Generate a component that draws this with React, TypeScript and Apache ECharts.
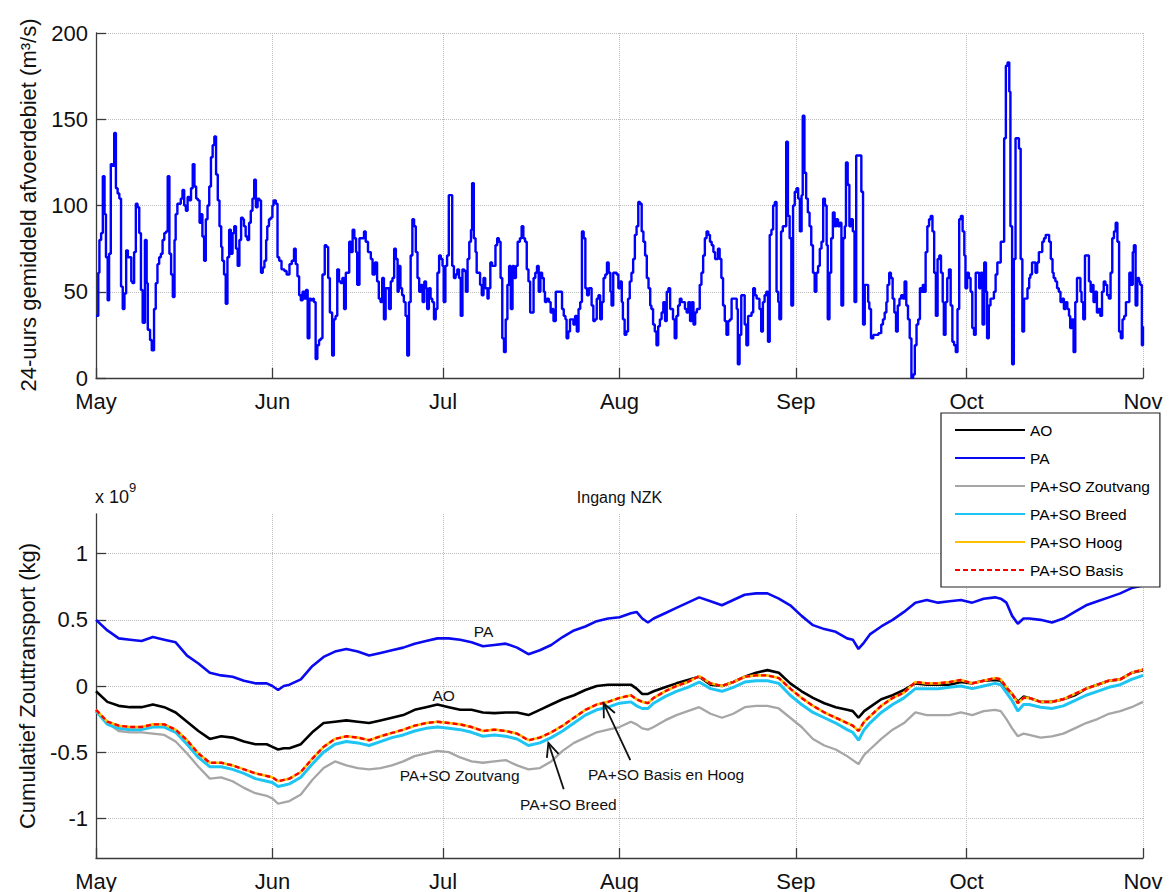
import React, { useEffect, useRef } from 'react';
import * as echarts from 'echarts';

// ---- axis ticks -------------------------------------------------------
// day offsets (from 1 May) of each month start
const monthStarts = [0, 31, 61, 92, 123, 153, 184];
const monthNames = ['May', 'Jun', 'Jul', 'Aug', 'Sep', 'Oct', 'Nov'];
const saltTicks = [-1, -0.5, 0, 0.5, 1];

// ---- 24-hour mean discharge (m3/s), [day, value] ------------------------
const flowMay = [
  [0, 36], [0.4, 61], [0.6, 80], [0.9, 84], [1.2, 117], [1.5, 95], [1.75, 70], [2.05, 45], [2.3, 72], [2.6, 124],
  [2.9, 123], [3.2, 142], [3.5, 110], [3.8, 107], [4.1, 104], [4.4, 53], [4.7, 40], [5.0, 49], [5.3, 74], [5.6, 70],
  [5.9, 70], [6.2, 56], [6.4, 55], [6.7, 73], [7.0, 101], [7.3, 99], [7.6, 84], [7.9, 51], [8.2, 32], [8.6, 80],
  [8.9, 55], [9.1, 28], [9.5, 22], [9.8, 16], [10.2, 40], [10.5, 55], [10.8, 66], [11.1, 70], [11.4, 72], [11.7, 80],
  [12.0, 84], [12.3, 85], [12.6, 117], [12.9, 72], [13.2, 60], [13.5, 47], [13.8, 80], [14.0, 95], [14.3, 101], [14.6, 101],
  [14.9, 104], [15.2, 109], [15.5, 100], [15.8, 97], [16.1, 105], [16.4, 103], [16.7, 110], [17.0, 124], [17.3, 111], [17.6, 104],
  [17.9, 103], [18.2, 90], [18.4, 95], [18.7, 82], [19.0, 68], [19.3, 92], [19.6, 100], [19.9, 111], [20.2, 128], [20.5, 135],
  [20.8, 140], [21.1, 118], [21.4, 103], [21.7, 88], [22.0, 76], [22.2, 68], [22.5, 60], [22.8, 43], [23.1, 70], [23.4, 86],
  [23.7, 72], [24.0, 84], [24.3, 88], [24.6, 75], [24.9, 65], [25.2, 80], [25.5, 93], [25.8, 92], [26.0, 88], [26.3, 82],
  [26.6, 80], [26.9, 90], [27.2, 97], [27.5, 104], [27.8, 115], [28.1, 99], [28.4, 104], [28.7, 103], [29.0, 61], [29.3, 64],
  [29.6, 68], [29.9, 80], [30.1, 88], [30.4, 92], [30.7, 93], [31.0, 100],
];
const flowJun = [
  [31.2, 103], [31.6, 101], [31.9, 70], [32.2, 68], [32.6, 63], [33.1, 62], [33.5, 60], [34.0, 66], [34.4, 68], [34.8, 75],
  [35.1, 66], [35.4, 59], [35.7, 48], [36.0, 45], [36.3, 50], [36.6, 46], [36.9, 51], [37.2, 23], [37.5, 46], [37.8, 45],
  [38.1, 46], [38.3, 44], [38.6, 11], [38.9, 19], [39.2, 22], [39.5, 23], [39.8, 60], [40.2, 77], [40.5, 76], [40.8, 58],
  [41.1, 38], [41.5, 13], [41.8, 34], [42.1, 36], [42.4, 63], [42.7, 56], [43.0, 55], [43.3, 58], [43.6, 40], [43.9, 61],
  [44.2, 61], [44.5, 79], [44.8, 73], [45.1, 86], [45.4, 81], [45.7, 73], [45.9, 54], [46.3, 81], [46.7, 81], [47.1, 85],
  [47.4, 79], [47.8, 73], [48.3, 69], [48.6, 60], [49.0, 67], [49.4, 56], [49.7, 46], [50.0, 44], [50.3, 58], [50.6, 34],
  [50.9, 52], [51.2, 52], [51.5, 40], [51.8, 56], [52.1, 58], [52.4, 75], [52.7, 69], [53.0, 50], [53.2, 65], [53.5, 52],
  [53.8, 48], [54.1, 44], [54.4, 36], [54.7, 13], [55.0, 44], [55.3, 71], [55.6, 92], [55.9, 88], [56.2, 73], [56.5, 58],
  [56.8, 50], [57.1, 54], [57.4, 44], [57.7, 56], [58.0, 52], [58.2, 40], [58.5, 52], [58.8, 46], [59.1, 44], [59.4, 34],
  [59.7, 40], [60.0, 61], [60.3, 71], [60.6, 69], [60.9, 65],
];
const flowJul = [
  [61.1, 44], [61.4, 65], [61.7, 71], [62.0, 106], [62.3, 106], [62.6, 65], [62.9, 58], [63.2, 60], [63.5, 63], [63.8, 58],
  [64.1, 36], [64.4, 63], [64.7, 62], [65.0, 50], [65.3, 69], [65.6, 79], [65.9, 86], [66.1, 113], [66.4, 81], [66.7, 73],
  [66.9, 61], [67.2, 61], [67.5, 54], [67.8, 48], [68.1, 58], [68.4, 52], [68.8, 46], [69.0, 52], [69.3, 67], [69.6, 65],
  [69.9, 65], [70.2, 77], [70.5, 81], [70.8, 79], [71.1, 58], [71.4, 23], [71.7, 15], [72.0, 34], [72.3, 54], [72.6, 65],
  [72.9, 40], [73.2, 65], [73.5, 58], [73.8, 65], [74.1, 79], [74.5, 81], [74.8, 88], [75.1, 81], [75.4, 79], [75.7, 63],
  [76.0, 56], [76.3, 38], [76.6, 38], [76.9, 58], [77.2, 61], [77.5, 65], [77.8, 50], [78.1, 61], [78.4, 58], [78.7, 50],
  [78.9, 44], [79.2, 46], [79.6, 44], [79.9, 38], [80.2, 40], [80.4, 33], [80.8, 50], [81.2, 50], [81.6, 50], [81.9, 40],
  [82.2, 36], [82.5, 34], [82.7, 23], [83.0, 27], [83.3, 34], [83.6, 34], [83.9, 31], [84.2, 36], [84.5, 27], [84.8, 40],
  [85.1, 44], [85.4, 85], [85.7, 81], [86.0, 52], [86.3, 48], [86.6, 52], [86.9, 52], [87.1, 42], [87.4, 33], [87.7, 34],
  [88.0, 46], [88.3, 48], [88.6, 34], [88.9, 44], [89.2, 58], [89.5, 60], [89.8, 67], [90.1, 61], [90.4, 50], [90.6, 42],
  [90.9, 61], [91.2, 61], [91.5, 60], [91.8, 52],
];
const flowAug = [
  [92.1, 56], [92.4, 44], [92.6, 34], [92.9, 25], [93.2, 27], [93.5, 46], [93.8, 56], [94.1, 61], [94.4, 69], [94.7, 83],
  [95.0, 88], [95.3, 102], [95.6, 101], [95.9, 85], [96.2, 79], [96.5, 71], [96.8, 58], [97.1, 52], [97.4, 42], [97.6, 40],
  [97.9, 31], [98.2, 27], [98.5, 19], [98.8, 30], [99.1, 34], [99.4, 38], [99.7, 44], [100.0, 33], [100.3, 50], [100.6, 52],
  [100.9, 40], [101.2, 40], [101.4, 34], [101.7, 23], [102.0, 36], [102.3, 42], [102.6, 46], [102.9, 44], [103.2, 44], [103.5, 40],
  [103.8, 38], [104.1, 44], [104.4, 33], [104.7, 44], [105.0, 31], [105.3, 38], [105.6, 40], [105.8, 40], [106.1, 54], [106.4, 61],
  [106.7, 71], [107.0, 81], [107.3, 85], [107.6, 83], [107.9, 79], [108.2, 77], [108.5, 73], [108.8, 69], [109.0, 69], [109.3, 75],
  [109.6, 69], [109.9, 58], [110.2, 42], [110.5, 33], [110.8, 25], [111.1, 33], [111.4, 34], [111.7, 46], [112.0, 46], [112.3, 46],
  [112.6, 40], [112.8, 8], [113.1, 25], [113.4, 48], [113.7, 48], [114.0, 31], [114.3, 19], [114.6, 36], [114.9, 36], [115.2, 38],
  [115.5, 52], [115.8, 48], [116.1, 46], [116.4, 46], [116.6, 40], [116.9, 27], [117.2, 44], [117.5, 48], [117.8, 50], [118.1, 21],
  [118.4, 83], [118.7, 86], [119.0, 100], [119.3, 102], [119.6, 50], [119.9, 44], [120.1, 34], [120.4, 85], [120.7, 88], [121.0, 88],
  [121.3, 137], [121.6, 94], [121.9, 81], [122.2, 42], [122.5, 100], [122.8, 108],
];
const flowSep = [
  [123.1, 110], [123.4, 104], [123.7, 85], [124.0, 106], [124.2, 152], [124.5, 119], [124.8, 104], [125.1, 96], [125.4, 88], [125.7, 77],
  [126.0, 61], [126.3, 50], [126.6, 61], [126.9, 65], [127.2, 75], [127.5, 79], [127.8, 104], [128.1, 100], [128.4, 77], [128.6, 34],
  [128.9, 61], [129.2, 81], [129.5, 96], [129.8, 88], [130.1, 92], [130.4, 88], [130.7, 90], [131.0, 42], [131.3, 81], [131.6, 88],
  [131.8, 125], [132.1, 112], [132.4, 88], [132.7, 92], [133.0, 85], [133.3, 44], [133.6, 129], [133.9, 129], [134.2, 129], [134.5, 108],
  [134.8, 31], [135.1, 54], [135.4, 54], [135.7, 44], [135.9, 40], [136.2, 23], [136.6, 25], [137.0, 25], [137.5, 26], [138.0, 31],
  [138.3, 34], [138.6, 38], [138.9, 44], [139.1, 54], [139.4, 61], [139.7, 58], [140.0, 46], [140.3, 38], [140.6, 27], [140.9, 42],
  [141.2, 46], [141.5, 48], [141.8, 46], [142.1, 56], [142.4, 42], [142.7, 34], [143.0, 23], [143.3, 0], [143.6, 2], [143.9, 19],
  [144.2, 31], [144.5, 34], [144.8, 52], [145.1, 50], [145.3, 54], [145.6, 50], [145.8, 73], [146.1, 88], [146.4, 92], [146.7, 94],
  [147.0, 85], [147.3, 61], [147.6, 36], [147.9, 69], [148.2, 71], [148.5, 61], [148.8, 44], [149.0, 25], [149.3, 44], [149.6, 58],
  [149.9, 63], [150.2, 42], [150.5, 21], [150.8, 19], [151.1, 15], [151.4, 40], [151.7, 92], [152.0, 94], [152.3, 85], [152.6, 71],
  [152.8, 52],
];
const flowOct = [
  [153.1, 61], [153.4, 58], [153.7, 50], [154.0, 29], [154.3, 25], [154.6, 61], [154.9, 61], [155.2, 52], [155.5, 61], [155.8, 31],
  [156.1, 67], [156.4, 50], [156.6, 23], [156.9, 42], [157.2, 46], [157.5, 46], [157.8, 50], [158.1, 60], [158.4, 67], [158.7, 67],
  [159.0, 79], [159.3, 79], [159.6, 139], [159.9, 181], [160.2, 183], [160.5, 166], [160.7, 88], [161.0, 8], [161.3, 69], [161.6, 139],
  [161.9, 139], [162.2, 133], [162.5, 69], [162.8, 27], [163.1, 46], [163.4, 46], [163.7, 52], [164.0, 58], [164.2, 60], [164.5, 67],
  [164.8, 67], [165.1, 61], [165.4, 67], [165.7, 73], [166.0, 73], [166.3, 79], [166.6, 81], [166.9, 83], [167.2, 83], [167.5, 79],
  [167.8, 69], [168.1, 61], [168.3, 58], [168.6, 56], [168.9, 52], [169.2, 50], [169.5, 44], [169.8, 46], [170.1, 40], [170.4, 44],
  [170.7, 40], [171.0, 36], [171.2, 29], [171.5, 34], [171.8, 15], [172.1, 44], [172.4, 58], [172.7, 58], [173.0, 50], [173.2, 44],
  [173.5, 34], [173.8, 71], [174.1, 71], [174.5, 56], [174.8, 50], [175.1, 54], [175.3, 44], [175.6, 50], [175.9, 38], [176.2, 40],
  [176.5, 36], [176.8, 50], [177.1, 56], [177.4, 54], [177.7, 48], [178.0, 46], [178.3, 61], [178.6, 81], [178.9, 85], [179.2, 90],
  [179.5, 79], [179.8, 27], [180.1, 23], [180.4, 34], [180.7, 36], [181.0, 44], [181.3, 44], [181.6, 61], [181.9, 54], [182.2, 73],
  [182.4, 77], [182.7, 42], [183.0, 58], [183.3, 56], [183.5, 54], [183.8, 19], [184.0, 30],
];

// ---- cumulative salt transport (x 10^9 kg) ----------------------------
const saltDays = [
  0, 2, 4, 6, 8, 10, 12, 14, 16, 18,
  20, 22, 24, 26, 28, 30, 31, 32, 33, 34,
  36, 38, 40, 42, 44, 46, 48, 50, 52, 54,
  56, 58, 60, 62, 64, 66, 68, 70, 72, 74,
  76, 78, 80, 82, 84, 86, 88, 90, 92, 94,
  95, 96, 97, 98, 100, 102, 104, 106, 108, 110,
  112, 114, 116, 118, 120, 122, 124, 126, 128, 130,
  132, 133, 134, 135, 136, 138, 140, 142, 144, 146,
  148, 150, 152, 154, 156, 158, 159, 160, 161, 162,
  163, 164, 166, 168, 170, 172, 174, 176, 178, 180,
  182, 184,
];
const saltAO = [
  -0.04, -0.12, -0.15, -0.16, -0.16, -0.14, -0.16, -0.20, -0.27, -0.34,
  -0.40, -0.38, -0.39, -0.42, -0.44, -0.44, -0.46, -0.48, -0.47, -0.47,
  -0.44, -0.35, -0.28, -0.27, -0.26, -0.27, -0.28, -0.26, -0.24, -0.22,
  -0.18, -0.16, -0.14, -0.16, -0.18, -0.18, -0.20, -0.205, -0.20, -0.20,
  -0.22, -0.18, -0.14, -0.10, -0.07, -0.03, 0.00, 0.01, 0.01, 0.01,
  -0.02, -0.06, -0.06, -0.04, -0.01, 0.02, 0.045, 0.07, 0.01, 0.00,
  0.03, 0.07, 0.10, 0.12, 0.10, 0.02, -0.04, -0.09, -0.13, -0.16,
  -0.18, -0.19, -0.24, -0.19, -0.16, -0.10, -0.07, -0.03, 0.02, 0.01,
  0.01, 0.01, 0.03, 0.02, 0.04, 0.045, 0.04, -0.02, -0.06, -0.12,
  -0.08, -0.09, -0.12, -0.12, -0.10, -0.07, -0.02, 0.01, 0.04, 0.05,
  0.10, 0.12,
];
const saltPA = [
  0.50, 0.42, 0.36, 0.35, 0.34, 0.37, 0.35, 0.33, 0.23, 0.17,
  0.10, 0.08, 0.07, 0.04, 0.02, 0.02, 0.00, -0.03, 0.00, 0.01,
  0.05, 0.15, 0.22, 0.26, 0.28, 0.26, 0.23, 0.25, 0.27, 0.29,
  0.32, 0.34, 0.36, 0.36, 0.35, 0.33, 0.30, 0.31, 0.32, 0.29,
  0.24, 0.27, 0.31, 0.37, 0.42, 0.45, 0.49, 0.51, 0.52, 0.55,
  0.56, 0.51, 0.48, 0.51, 0.55, 0.59, 0.63, 0.67, 0.64, 0.61,
  0.65, 0.69, 0.70, 0.70, 0.66, 0.61, 0.53, 0.46, 0.43, 0.41,
  0.36, 0.35, 0.28, 0.33, 0.39, 0.45, 0.50, 0.56, 0.63, 0.65,
  0.63, 0.64, 0.65, 0.63, 0.66, 0.67, 0.66, 0.63, 0.53, 0.47,
  0.51, 0.51, 0.50, 0.48, 0.51, 0.56, 0.61, 0.64, 0.67, 0.70,
  0.74, 0.76,
];
const saltZoutvang = [
  -0.18, -0.28, -0.34, -0.35, -0.35, -0.36, -0.37, -0.42, -0.51, -0.61,
  -0.70, -0.69, -0.72, -0.77, -0.81, -0.83, -0.85, -0.89, -0.88, -0.87,
  -0.82, -0.71, -0.62, -0.57, -0.60, -0.62, -0.63, -0.62, -0.60, -0.57,
  -0.53, -0.51, -0.49, -0.50, -0.54, -0.57, -0.58, -0.57, -0.56, -0.60,
  -0.63, -0.62, -0.57, -0.49, -0.43, -0.39, -0.35, -0.33, -0.31, -0.27,
  -0.29, -0.32, -0.33, -0.31, -0.26, -0.22, -0.19, -0.16, -0.21, -0.24,
  -0.21, -0.16, -0.15, -0.15, -0.17, -0.24, -0.31, -0.40, -0.45, -0.48,
  -0.53, -0.56, -0.59, -0.52, -0.48, -0.40, -0.33, -0.28, -0.20, -0.22,
  -0.22, -0.22, -0.20, -0.22, -0.19, -0.18, -0.19, -0.25, -0.32, -0.38,
  -0.36, -0.37, -0.39, -0.38, -0.36, -0.32, -0.28, -0.25, -0.21, -0.19,
  -0.16, -0.12,
];
const saltBreed = [
  -0.19, -0.29, -0.32, -0.33, -0.33, -0.31, -0.31, -0.35, -0.44, -0.54,
  -0.61, -0.61, -0.63, -0.66, -0.70, -0.72, -0.73, -0.76, -0.75, -0.74,
  -0.69, -0.59, -0.50, -0.44, -0.42, -0.43, -0.45, -0.42, -0.39, -0.37,
  -0.34, -0.32, -0.31, -0.32, -0.33, -0.35, -0.38, -0.37, -0.38, -0.40,
  -0.45, -0.43, -0.39, -0.34, -0.28, -0.22, -0.18, -0.16, -0.13, -0.12,
  -0.15, -0.17, -0.17, -0.13, -0.08, -0.04, -0.01, 0.03, -0.02, -0.04,
  -0.01, 0.03, 0.04, 0.04, 0.02, -0.07, -0.14, -0.20, -0.24, -0.28,
  -0.33, -0.35, -0.41, -0.33, -0.28, -0.20, -0.14, -0.09, -0.02, -0.02,
  -0.02, -0.01, 0.00, -0.02, 0.00, 0.02, 0.01, -0.05, -0.11, -0.19,
  -0.14, -0.14, -0.16, -0.17, -0.15, -0.11, -0.07, -0.04, -0.01, 0.01,
  0.05, 0.08,
];
// "Basis" and "Hoog" give practically the same result
const saltBasisHoog = [
  -0.18, -0.27, -0.30, -0.31, -0.31, -0.29, -0.29, -0.33, -0.41, -0.51,
  -0.58, -0.58, -0.60, -0.63, -0.66, -0.68, -0.69, -0.72, -0.71, -0.70,
  -0.65, -0.55, -0.46, -0.40, -0.38, -0.39, -0.41, -0.38, -0.355, -0.33,
  -0.30, -0.28, -0.27, -0.28, -0.29, -0.31, -0.34, -0.33, -0.34, -0.36,
  -0.41, -0.39, -0.35, -0.30, -0.24, -0.18, -0.14, -0.12, -0.09, -0.07,
  -0.10, -0.12, -0.13, -0.09, -0.04, 0.00, 0.03, 0.075, 0.02, 0.00,
  0.03, 0.07, 0.08, 0.08, 0.06, -0.02, -0.09, -0.15, -0.20, -0.24,
  -0.28, -0.30, -0.34, -0.27, -0.23, -0.15, -0.09, -0.05, 0.03, 0.02,
  0.02, 0.03, 0.045, 0.02, 0.04, 0.06, 0.05, -0.01, -0.06, -0.13,
  -0.09, -0.09, -0.12, -0.12, -0.10, -0.06, -0.02, 0.01, 0.04, 0.05,
  0.10, 0.125,
];

// text labels placed in data coordinates of the lower panel
const seriesNotes = [
  { text: 'PA', day: 68.1, value: 0.41 },
  { text: 'AO', day: 61.1, value: -0.07 },
  { text: 'PA+SO Zoutvang', day: 63.9, value: -0.68 },
  { text: 'PA+SO Breed', day: 83.0, value: -0.895 },
  { text: 'PA+SO Basis en Hoog', day: 100.2, value: -0.67 },
];
const noteArrows = [
  { from: [82.2, -0.78], to: [79.5, -0.43] },
  { from: [93.9, -0.56], to: [89.2, -0.13] },
];

const FONT = '"Liberation Sans", Arial, Helvetica, sans-serif';
const AXIS_COLOR = '#3a3a3a';
const GRID_LINE = { type: 'dotted' as const, color: '#bdbdbd', width: 1 };

const pairs = (days: number[], vals: number[]) =>
  days.slice(0, Math.min(days.length, vals.length)).map((d, i) => [d, vals[i]]);

function monthAxis(gridIndex: number) {
  return {
    type: 'value',
    gridIndex,
    min: monthStarts[0],
    max: monthStarts[monthStarts.length - 1],
    axisLine: { show: true, onZero: false, lineStyle: { color: AXIS_COLOR, width: 1.3 } },
    axisTick: {
      show: true, inside: true, length: 10, customValues: monthStarts,
      lineStyle: { color: AXIS_COLOR, width: 1.3 },
    },
    axisLabel: {
      customValues: monthStarts,
      showMinLabel: true,
      showMaxLabel: true,
      formatter: (v: number) => monthNames[monthStarts.indexOf(Math.round(v))] ?? '',
      fontSize: 22, color: '#111', fontFamily: FONT, margin: 12,
    },
    splitLine: { show: true, lineStyle: GRID_LINE },
  };
}

function buildOption() {
  const flow = [...flowMay, ...flowJun, ...flowJul, ...flowAug, ...flowSep, ...flowOct];
  const lineSeries = (name: string, vals: number[], color: string, width: number, dash?: number[]) => ({
    name,
    type: 'line',
    xAxisIndex: 1,
    yAxisIndex: 1,
    data: pairs(saltDays, vals),
    symbol: 'none',
    color,
    itemStyle: { color },
    lineStyle: { color, width, type: dash ?? 'solid' },
    emphasis: { disabled: true },
  });
  return {
    animation: false,
    backgroundColor: '#ffffff',
    textStyle: { fontFamily: FONT },
    grid: [
      { left: 96, top: 33, width: 1047, height: 345 },
      { left: 96, top: 514, width: 1047, height: 345 },
    ],
    xAxis: [monthAxis(0), monthAxis(1)],
    yAxis: [
      {
        type: 'value', gridIndex: 0, min: 0, max: 200, interval: 50,
        axisLine: { show: true, onZero: false, lineStyle: { color: AXIS_COLOR, width: 1.3 } },
        axisTick: { show: true, inside: true, length: 10, lineStyle: { color: AXIS_COLOR, width: 1.3 } },
        axisLabel: {
          fontSize: 22, color: '#111', fontFamily: FONT, margin: 8, padding: [0, 0, 3, 0],
        },
        splitLine: { show: true, lineStyle: GRID_LINE },
      },
      {
        type: 'value', gridIndex: 1, min: -1.3, max: 1.3,
        axisLine: { show: true, onZero: false, lineStyle: { color: AXIS_COLOR, width: 1.3 } },
        axisTick: {
          show: true, inside: true, length: 10, customValues: saltTicks,
          lineStyle: { color: AXIS_COLOR, width: 1.3 },
        },
        axisLabel: {
          customValues: saltTicks,
          formatter: (v: number) => String(Math.round(v * 10) / 10),
          fontSize: 22, color: '#111', fontFamily: FONT, margin: 8,
        },
        splitLine: { show: true, lineStyle: GRID_LINE },
      },
    ],
    legend: {
      data: ['AO', 'PA', 'PA+SO Zoutvang', 'PA+SO Breed', 'PA+SO Hoog', 'PA+SO Basis'],
      orient: 'vertical',
      left: 941,
      top: 413,
      padding: [9, 10, 9, 13],
      itemWidth: 70,
      itemHeight: 14,
      itemGap: 12,
      selectedMode: false,
      backgroundColor: '#ffffff',
      borderColor: '#222222',
      borderWidth: 1.2,
      itemStyle: { opacity: 0 },
      textStyle: { fontSize: 15.5, color: '#000', fontFamily: FONT },
    },
    series: [
      {
        name: 'Afvoerdebiet',
        type: 'line',
        xAxisIndex: 0,
        yAxisIndex: 0,
        data: flow,
        step: 'end',
        symbol: 'none',
        color: '#0000ff',
        lineStyle: { color: '#0000ff', width: 2.4 },
        emphasis: { disabled: true },
      },
      lineSeries('AO', saltAO, '#000000', 2.6),
      lineSeries('PA', saltPA, '#0a0af0', 2.6),
      lineSeries('PA+SO Zoutvang', saltZoutvang, '#a6a6a6', 2.3),
      lineSeries('PA+SO Breed', saltBreed, '#1ec5f2', 3),
      lineSeries('PA+SO Hoog', saltBasisHoog, '#ffc000', 2.6),
      lineSeries('PA+SO Basis', saltBasisHoog, '#ff0000', 2.4, [5, 3]),
    ],
  };
}

export default function App() {
  const ref = useRef<HTMLDivElement>(null);

  useEffect(() => {
    if (!ref.current) return;
    const chart = echarts.init(ref.current, null, { renderer: 'svg' });
    chart.setOption(buildOption() as any);

    const toPx = (d: number, v: number) =>
      chart.convertToPixel({ gridIndex: 1 } as any, [d, v]) as number[];

    const graphics: any[] = [
      {
        type: 'text', x: 28, y: 205, rotation: Math.PI / 2,
        style: {
          text: '24-uurs gemiddeld afvoerdebiet (m³/s)', fill: '#111',
          font: `22px ${FONT}`, textAlign: 'center', textVerticalAlign: 'middle',
          align: 'center', verticalAlign: 'middle',
        },
      },
      {
        type: 'text', x: 27, y: 686, rotation: Math.PI / 2,
        style: {
          text: 'Cumulatief Zouttransport (kg)', fill: '#111',
          font: `22px ${FONT}`, textAlign: 'center', textVerticalAlign: 'middle',
          align: 'center', verticalAlign: 'middle',
        },
      },
      {
        type: 'text', x: 95, y: 497,
        style: {
          text: 'x 10', fill: '#111', font: `18px ${FONT}`,
          textAlign: 'left', textVerticalAlign: 'middle', align: 'left', verticalAlign: 'middle',
        },
      },
      {
        type: 'text', x: 129, y: 487,
        style: {
          text: '9', fill: '#111', font: `13px ${FONT}`,
          textAlign: 'left', textVerticalAlign: 'middle', align: 'left', verticalAlign: 'middle',
        },
      },
      {
        type: 'text', x: 619.5, y: 497,
        style: {
          text: 'Ingang NZK', fill: '#111', font: `16px ${FONT}`,
          textAlign: 'center', textVerticalAlign: 'middle', align: 'center', verticalAlign: 'middle',
        },
      },
    ];

    seriesNotes.forEach((n) => {
      const [x, y] = toPx(n.day, n.value);
      graphics.push({
        type: 'text', x, y, z: 10,
        style: {
          text: n.text, fill: '#111', font: `15.5px ${FONT}`,
          textAlign: 'center', textVerticalAlign: 'middle', align: 'center', verticalAlign: 'middle',
        },
      });
    });

    noteArrows.forEach((a) => {
      const [x1, y1] = toPx(a.from[0], a.from[1]);
      const [x2, y2] = toPx(a.to[0], a.to[1]);
      const ang = Math.atan2(y1 - y2, x1 - x2);
      const head = 15;
      const spread = 0.42;
      const p1 = [x2 + head * Math.cos(ang - spread), y2 + head * Math.sin(ang - spread)];
      const p2 = [x2 + head * Math.cos(ang + spread), y2 + head * Math.sin(ang + spread)];
      graphics.push({
        type: 'line', z: 10,
        shape: { x1, y1, x2, y2 },
        style: { stroke: '#111', lineWidth: 1.8 },
      });
      graphics.push({
        type: 'polyline', z: 10,
        shape: { points: [p1, [x2, y2], p2] },
        style: { stroke: '#111', lineWidth: 1.8, fill: null },
      });
    });

    chart.setOption({ graphic: graphics });
    return () => chart.dispose();
  }, []);

  return (
    <div
      ref={ref}
      style={{ position: 'absolute', left: 0, top: 0, width: 1175, height: 892, background: '#fff' }}
    />
  );
}
